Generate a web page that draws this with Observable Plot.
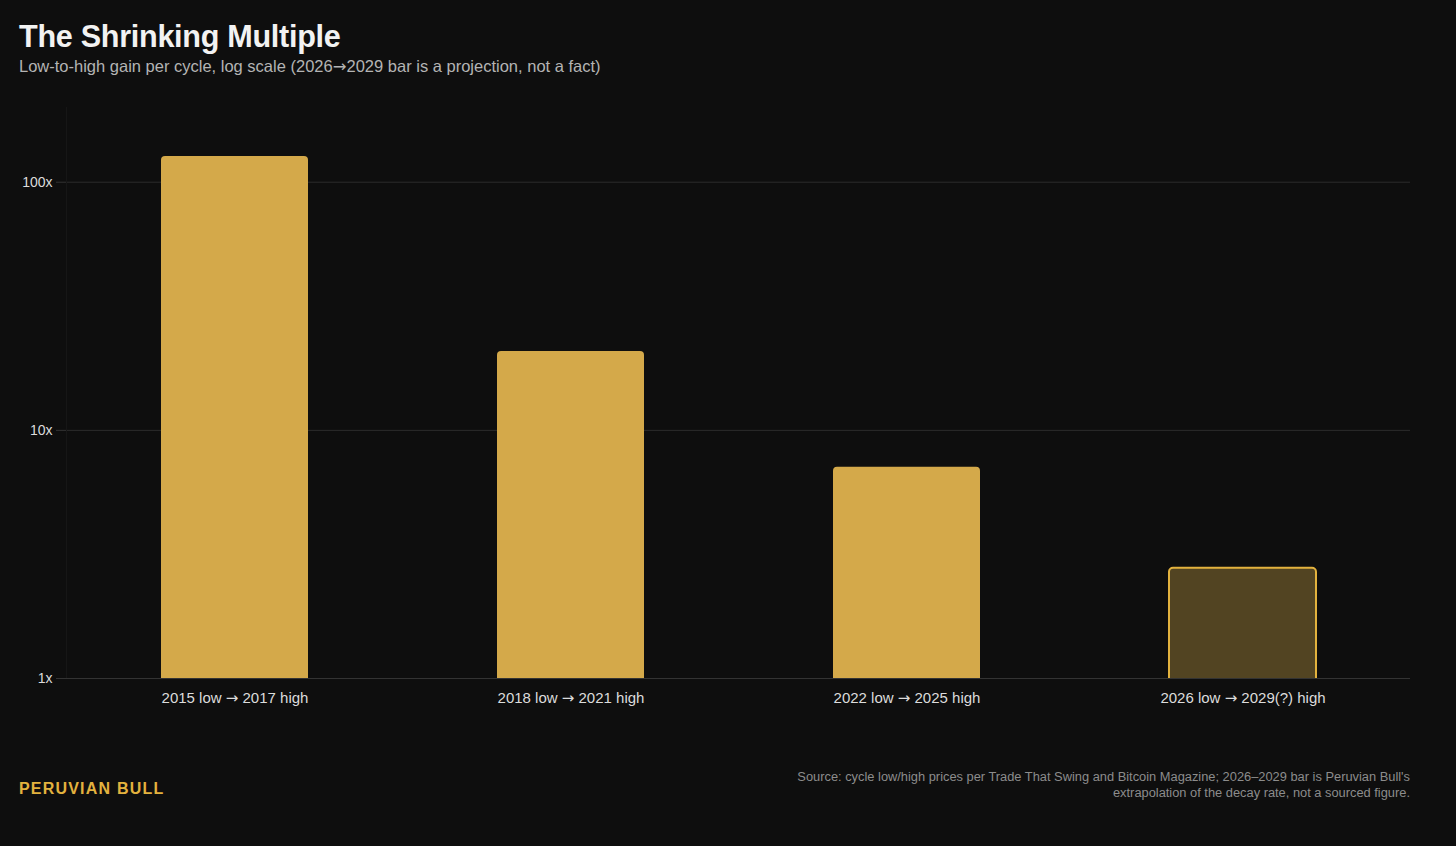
<!DOCTYPE html>
<html>
<head>
<meta charset="utf-8">
<script src="https://cdn.jsdelivr.net/npm/d3@7"></script>
<script src="https://cdn.jsdelivr.net/npm/@observablehq/plot@0.6"></script>
<style>
  html, body { margin: 0; padding: 0; background: #0e0e0e; width: 1456px; height: 846px; overflow: hidden; font-family: "Liberation Sans", Arial, Helvetica, sans-serif; }
  #title { position: absolute; left: 19px; top: 19px; font-size: 30.6px; font-weight: bold; color: #f2f2f2; letter-spacing: -0.3px; }
  #subtitle { position: absolute; left: 19px; top: 57px; font-size: 16.5px; color: #b4b4b4; }
  .arrow { font-family: "DejaVu Sans", sans-serif; }
  #chart { position: absolute; left: 0; top: 90px; }
  #brand { position: absolute; left: 19px; top: 780px; font-size: 16px; font-weight: bold; color: #e3b23e; letter-spacing: 1.2px; }
  #source { position: absolute; right: 46px; top: 769px; font-size: 12.85px; color: #8c8c8c; text-align: right; line-height: 16px; }
</style>
</head>
<body>
<div id="title">The Shrinking Multiple</div>
<div id="subtitle">Low-to-high gain per cycle, log scale (2026<span class="arrow">→</span>2029 bar is a projection, not a fact)</div>
<div id="chart"></div>
<div id="brand">PERUVIAN BULL</div>
<div id="source">Source: cycle low/high prices per Trade That Swing and Bitcoin Magazine; 2026–2029 bar is Peruvian Bull's<br>extrapolation of the decay rate, not a sourced figure.</div>
<script>
const cycles = ["2015 low → 2017 high", "2018 low → 2021 high", "2022 low → 2025 high", "2026 low → 2029(?) high"];
const multiples = [127, 20.8, 7.1, 2.78];
const projected = [false, false, false, true];
const yTicks = [1, 10, 100];

const data = cycles.map((c, i) => ({cycle: c, multiple: multiples[i], projected: projected[i]}));

const chart = Plot.plot({
  width: 1456,
  height: 640,
  marginLeft: 66,
  marginRight: 46,
  marginTop: 17,
  marginBottom: 52,
  style: {background: "transparent", fontFamily: "'Liberation Sans', Arial, sans-serif", color: "#dcdcdc"},
  x: {domain: cycles, paddingInner: 0.5625, paddingOuter: 0.28125, label: null},
  y: {type: "log", domain: [1, 200], label: null},
  marks: [
    Plot.gridY(yTicks, {stroke: "#2c2c2c", strokeOpacity: 1}),
    Plot.frame({anchor: "left", stroke: "#161616"}),
    Plot.barY(data.filter(d => !d.projected), {x: "cycle", y1: 1, y2: "multiple", fill: "#d4a94a", rx: 4, insetBottom: -6, clip: true}),
    Plot.barY(data.filter(d => d.projected), {x: "cycle", y1: 1, y2: "multiple", fill: "#524422", stroke: "#e3b23e", strokeWidth: 2, rx: 4, insetBottom: -6, clip: true}),
    Plot.ruleY([1], {stroke: "#333333"}),
    Plot.axisY(yTicks, {tickFormat: d => d + "x", tickSize: 10, tickPadding: 4, stroke: "#333", fontSize: 14, fill: "#dcdcdc", label: null}),
    Plot.axisX({tickSize: 0, tickPadding: 14, fontSize: 15, fill: "#dcdcdc", label: null})
  ]
});
document.getElementById("chart").appendChild(chart);

// render the arrow glyph with a font whose arrow matches the reference's long thin arrow
d3.select(chart).selectAll("text").each(function() {
  const el = d3.select(this);
  if (el.selectAll("tspan").size() > 0) return;
  const t = el.text();
  if (!t.includes("→")) return;
  const parts = t.split("→");
  el.text(null);
  parts.forEach((p, i) => {
    el.append("tspan").text(p);
    if (i < parts.length - 1) el.append("tspan").attr("font-family", "'DejaVu Sans', sans-serif").text("→");
  });
});
</script>
</body>
</html>
